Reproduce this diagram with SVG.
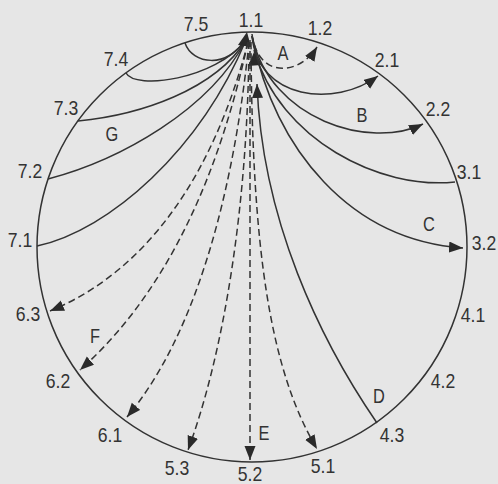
<svg xmlns="http://www.w3.org/2000/svg" width="498" height="484" viewBox="0 0 498 484">
<defs>
<marker id="ah" markerUnits="userSpaceOnUse" markerWidth="15" markerHeight="12" refX="14" refY="5.5" orient="auto" viewBox="0 0 15 12">
<path d="M0,0 L14,5.5 L0,11 Z" fill="#2a2a2a" stroke="none"/>
</marker>
</defs>
<style>
.t{font-family:"Liberation Sans",Arial,sans-serif;font-size:20px;fill:#333;text-anchor:middle}
.s{fill:none;stroke:#333;stroke-width:1.5}
.d{fill:none;stroke:#333;stroke-width:1.5;stroke-dasharray:7,4}
</style>
<rect width="498" height="484" fill="#e6e6e6"/>
<g id="circle"><circle cx="252" cy="247" r="215" class="s"/></g>
<g id="connectors">
<path class="s" d="M185,43 C192,64 228,70 246,38"/>
<path class="s" d="M126,73 C135,90 215,80 246,40"/>
<path class="s" d="M78,121 C140,115 215,90 246,40"/>
<path class="s" d="M48,179 C120,160 210,110 246,40"/>
<path class="s" d="M37,246 C110,230 200,150 246,40"/>
<polygon points="247,32 238,45 251,47" fill="#2a2a2a"/>
<path class="s" d="M252,36 C258,100 335,108 378,76" marker-end="url(#ah)"/>
<path class="s" d="M252,36 C270,120 370,150 423,124" marker-end="url(#ah)"/>
<path class="s" d="M455,182 C380,190 280,140 254,50"/>
<polygon points="254,52 248,66 261,65" fill="#2a2a2a"/>
<path class="s" d="M252,36 C275,150 350,240 463,248" marker-end="url(#ah)"/>
<path class="s" d="M377,423 C320,340 262,220 257,84" marker-end="url(#ah)"/>
<path class="d" d="M252,34 C258,80 300,75 317,47" marker-end="url(#ah)"/>
<path class="d" d="M248,42 C215,170 150,270 50,311" marker-end="url(#ah)"/>
<path class="d" d="M248,42 C220,170 170,290 80,370" marker-end="url(#ah)"/>
<path class="d" d="M249,42 C235,180 200,330 127,417" marker-end="url(#ah)"/>
<path class="d" d="M249,42 C248,200 225,350 188,450" marker-end="url(#ah)"/>
<path class="d" d="M250,40 L250,460" marker-end="url(#ah)"/>
<path class="d" d="M251,42 C252,250 270,370 317,449" marker-end="url(#ah)"/>
</g>
<g id="labels">
<text class="t" transform="translate(251,27) scale(0.88,1)">1.1</text>
<text class="t" transform="translate(320,35) scale(0.88,1)">1.2</text>
<text class="t" transform="translate(196,31) scale(0.88,1)">7.5</text>
<text class="t" transform="translate(116,66) scale(0.88,1)">7.4</text>
<text class="t" transform="translate(66,115) scale(0.88,1)">7.3</text>
<text class="t" transform="translate(30,178) scale(0.88,1)">7.2</text>
<text class="t" transform="translate(20,247) scale(0.88,1)">7.1</text>
<text class="t" transform="translate(387,67) scale(0.88,1)">2.1</text>
<text class="t" transform="translate(438,116) scale(0.88,1)">2.2</text>
<text class="t" transform="translate(469,179) scale(0.88,1)">3.1</text>
<text class="t" transform="translate(484,250) scale(0.88,1)">3.2</text>
<text class="t" transform="translate(473,322) scale(0.88,1)">4.1</text>
<text class="t" transform="translate(443,388) scale(0.88,1)">4.2</text>
<text class="t" transform="translate(392,442) scale(0.88,1)">4.3</text>
<text class="t" transform="translate(323,473) scale(0.88,1)">5.1</text>
<text class="t" transform="translate(250,481) scale(0.88,1)">5.2</text>
<text class="t" transform="translate(177,475) scale(0.88,1)">5.3</text>
<text class="t" transform="translate(110,442) scale(0.88,1)">6.1</text>
<text class="t" transform="translate(58,388) scale(0.88,1)">6.2</text>
<text class="t" transform="translate(28,321) scale(0.88,1)">6.3</text>
<text class="t" transform="translate(283,60) scale(0.82,1)">A</text>
<text class="t" transform="translate(362,122) scale(0.82,1)">B</text>
<text class="t" transform="translate(429,231) scale(0.82,1)">C</text>
<text class="t" transform="translate(379,403) scale(0.82,1)">D</text>
<text class="t" transform="translate(264,440) scale(0.82,1)">E</text>
<text class="t" transform="translate(95,343) scale(0.82,1)">F</text>
<text class="t" transform="translate(112,141) scale(0.82,1)">G</text>
</g>
</svg>
